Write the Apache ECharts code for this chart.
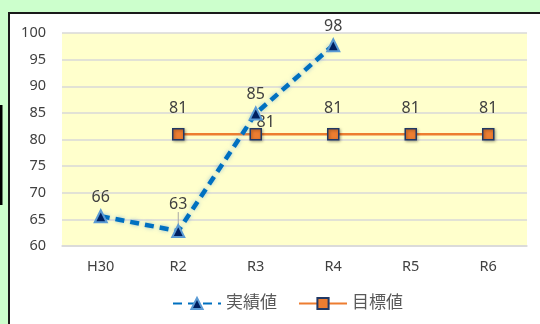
<!DOCTYPE html>
<html><head><meta charset="utf-8">
<script src="https://cdn.jsdelivr.net/npm/echarts@6/dist/echarts.min.js"></script>
<style>html,body{margin:0;padding:0;background:#CCFFCC;}#c{width:540px;height:324px;}</style>
</head><body><div id="c"></div>
<script>
var categories = ['H30', 'R2', 'R3', 'R4', 'R5', 'R6'];
var actualValues = [65.6, 62.8, 84.9, 97.7, null, null];
var targetValues = [null, 81, 81, 81, 81, 81];
var yTicks = [60, 100, 5];

var chart = echarts.init(document.getElementById('c'), null, {renderer: 'canvas'});
var fontFam = '"Noto Sans", "Noto Sans CJK JP", sans-serif';
chart.setOption({
  backgroundColor: '#CCFFCC',
  animation: false,
  graphic: [
    {type: 'rect', z: -10, shape: {x: 9, y: 13, width: 545, height: 320}, style: {fill: '#FFFFFF', stroke: '#1a1a1a', lineWidth: 2}},
    {type: 'rect', z: -10, shape: {x: 0, y: 105, width: 2.5, height: 100}, style: {fill: '#000000'}}
  ],
  grid: {left: 62, right: 13, top: 33, bottom: 78, show: true, backgroundColor: '#FFFFCC', borderWidth: 0},
  legend: {
    left: 167, top: 290, itemWidth: 48, itemHeight: 14, itemGap: 21,
    textStyle: {fontFamily: fontFam, fontSize: 17, color: '#595959'},
    data: ['実績値', '目標値']
  },
  xAxis: {
    type: 'category', data: categories, boundaryGap: true,
    axisLine: {show: true, lineStyle: {color: '#D9D9D9', width: 1.5}},
    axisTick: {show: false},
    axisLabel: {margin: 14, fontFamily: fontFam, fontSize: 14.5, color: '#404040'}
  },
  yAxis: {
    type: 'value', min: yTicks[0], max: yTicks[1], interval: yTicks[2],
    axisLine: {show: false}, axisTick: {show: false},
    splitLine: {lineStyle: {color: '#D9D9D9', width: 1.5}},
    axisLabel: {margin: 16, fontFamily: fontFam, fontSize: 14.5, color: '#404040'}
  },
  series: [
    {
      name: '目標値', type: 'line', data: targetValues.map(function (v, i) {
        if (i === 2) return {value: v, label: {offset: [10, 14]}};
        return v;
      }),
      symbol: 'rect', symbolSize: 11, z: 2,
      lineStyle: {color: '#ED7D31', width: 2.5},
      itemStyle: {color: '#ED7D31', borderColor: '#203864', borderWidth: 1.5, shadowColor: 'rgba(0,0,0,0.35)', shadowBlur: 3, shadowOffsetX: 1, shadowOffsetY: 1},
      label: {show: true, position: 'top', distance: 11, fontFamily: fontFam, fontSize: 16, color: '#404040',
        formatter: function (p) { return Math.round(p.value); }}
    },
    {
      name: '実績値', type: 'line', data: actualValues.map(function (v, i) {
        if (i === 1) return {value: v, labelLine: {show: true, lineStyle: {color: '#A6A6A6', width: 1}}};
        if (i === 2) return {value: v, label: {offset: [5, -2]}};
        return v;
      }),
      symbol: 'triangle', symbolSize: 12, z: 3,
      lineStyle: {color: '#0070C0', width: 4.5, type: [9, 6], shadowColor: 'rgba(91,155,213,0.6)', shadowBlur: 4},
      itemStyle: {color: '#002060', borderColor: '#5B9BD5', borderWidth: 2},
      labelLayout: function (p) { return p.dataIndex === 1 ? {dy: -8} : {}; },
      label: {show: true, position: 'top', distance: 4, fontFamily: fontFam, fontSize: 16, color: '#404040',
        formatter: function (p) { return Math.round(p.value); }}
    }
  ]
});
</script></body></html>
